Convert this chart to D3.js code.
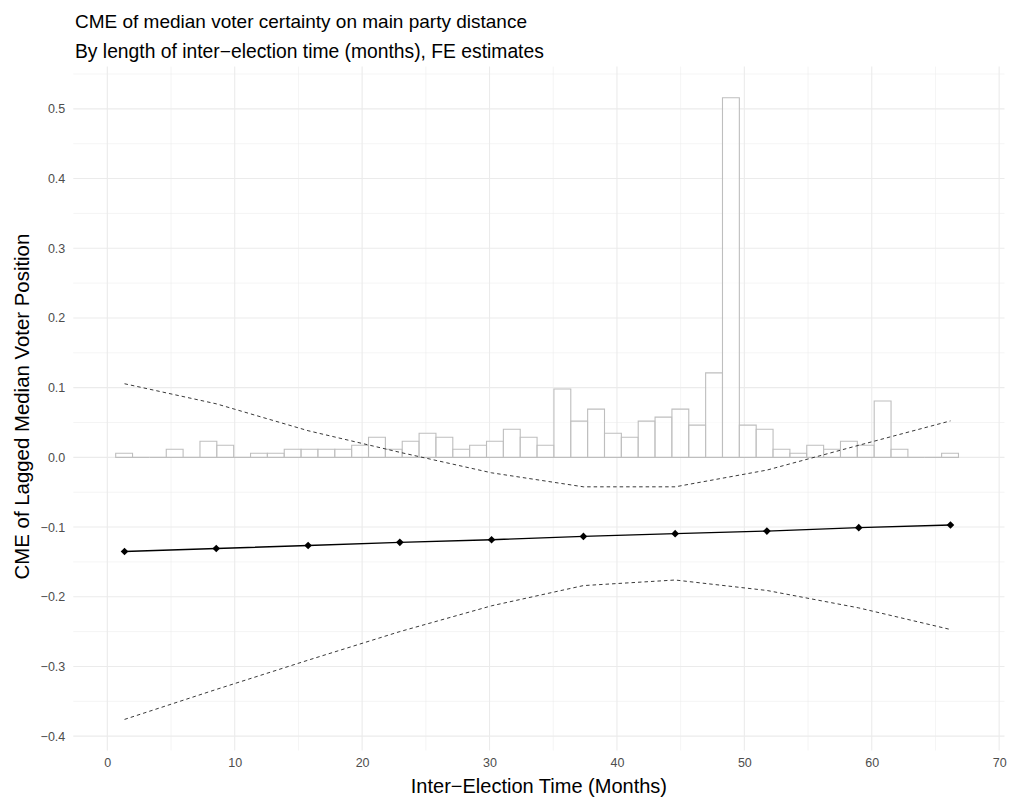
<!DOCTYPE html>
<html>
<head>
<meta charset="utf-8">
<script src="https://cdn.jsdelivr.net/npm/d3@7"></script>
<style>
  html, body { margin: 0; padding: 0; background: #ffffff; }
  svg { display: block; font-family: "Liberation Sans", Arial, Helvetica, sans-serif; }
</style>
</head>
<body>
<svg id="chart" width="1013" height="801"></svg>
<script>
// Inter-election time (months) at which the conditional marginal effect is evaluated
const months = [1.35, 8.55, 15.76, 22.96, 30.16, 37.37, 44.57, 51.77, 58.98, 66.18];
// Conditional marginal effect and its 95% confidence bounds
const cme      = [-0.1350, -0.1308, -0.1264, -0.1220, -0.1182, -0.1134, -0.1095, -0.1058, -0.1009, -0.0971];
const ciUpper  = [0.1056, 0.0768, 0.0382, 0.0072, -0.0222, -0.0423, -0.0423, -0.0183, 0.0173, 0.0523];
const ciLower  = [-0.3760, -0.3330, -0.2910, -0.2500, -0.2130, -0.1840, -0.1760, -0.1910, -0.2160, -0.2470];

// Distribution of inter-election time: 50 bins, heights on the CME axis scale
const histStart = 0.657;
const histBinWidth = 1.323;
const histHeights = [
  0.0058, 0, 0, 0.0115, 0, 0.0231, 0.0173, 0, 0.0058, 0.0058,
  0.0115, 0.0115, 0.0115, 0.0115, 0.0173, 0.0288, 0.0115, 0.0231, 0.0346, 0.0288,
  0.0115, 0.0173, 0.0231, 0.0404, 0.0288, 0.0173, 0.0981, 0.0519, 0.0692, 0.0346,
  0.0288, 0.0519, 0.0577, 0.0692, 0.0462, 0.1212, 0.5160, 0.0462, 0.0404, 0.0115,
  0.0058, 0.0173, 0.0115, 0.0231, 0.0173, 0.0808, 0.0115, 0, 0, 0.0058
];

// Axis breaks
const xTicks = [0, 10, 20, 30, 40, 50, 60, 70];
const xMinor = [5, 15, 25, 35, 45, 55, 65];
const yTicks = [-0.4, -0.3, -0.2, -0.1, 0.0, 0.1, 0.2, 0.3, 0.4, 0.5];
const yMinor = [-0.35, -0.25, -0.15, -0.05, 0.05, 0.15, 0.25, 0.35, 0.45, 0.55];

const titleText = "CME of median voter certainty on main party distance";
const subtitleText = "By length of inter\u2212election time (months), FE estimates";
const xTitle = "Inter\u2212Election Time (Months)";
const yTitle = "CME of Lagged Median Voter Position";

const panel = { left: 73.3, right: 1004.5, top: 66.6, bottom: 750.5 };

const svg = d3.select("#chart");

const x = d3.scaleLinear().domain([-2.67, 70.42]).range([panel.left, panel.right]);
const y = d3.scaleLinear().domain([-0.4206, 0.5606]).range([panel.bottom, panel.top]);

// Grid lines
const grid = svg.append("g");
grid.selectAll("line.ymin").data(yMinor).join("line")
  .attr("x1", panel.left).attr("x2", panel.right)
  .attr("y1", d => y(d)).attr("y2", d => y(d))
  .attr("stroke", "#ebebeb").attr("stroke-width", 0.55);
grid.selectAll("line.xmin").data(xMinor).join("line")
  .attr("y1", panel.top).attr("y2", panel.bottom)
  .attr("x1", d => x(d)).attr("x2", d => x(d))
  .attr("stroke", "#ebebeb").attr("stroke-width", 0.55);
grid.selectAll("line.ymaj").data(yTicks).join("line")
  .attr("x1", panel.left).attr("x2", panel.right)
  .attr("y1", d => y(d)).attr("y2", d => y(d))
  .attr("stroke", "#ebebeb").attr("stroke-width", 1.1);
grid.selectAll("line.xmaj").data(xTicks).join("line")
  .attr("y1", panel.top).attr("y2", panel.bottom)
  .attr("x1", d => x(d)).attr("x2", d => x(d))
  .attr("stroke", "#ebebeb").attr("stroke-width", 1.1);

// Histogram of inter-election time
const bins = histHeights.map((h, i) => ({
  x0: histStart + i * histBinWidth,
  x1: histStart + (i + 1) * histBinWidth,
  h: h
}));
svg.append("g").selectAll("path").data(bins).join("path")
  .attr("d", d => `M${x(d.x0)},${y(0)}V${y(d.h)}H${x(d.x1)}V${y(0)}Z`)
  .attr("fill", "#ffffff").attr("fill-opacity", 0.6)
  .attr("stroke", "#bebebe").attr("stroke-width", 1.1);

// Confidence bounds
const line = d3.line().x(d => x(d[0])).y(d => y(d[1]));
[ciUpper, ciLower].forEach(series => {
  svg.append("path")
    .datum(months.map((m, i) => [m, series[i]]))
    .attr("d", line)
    .attr("fill", "none")
    .attr("stroke", "#222222")
    .attr("stroke-width", 0.9)
    .attr("stroke-dasharray", "3.5,3");
});

// Marginal effect line and points
const est = months.map((m, i) => [m, cme[i]]);
svg.append("path").datum(est).attr("d", line)
  .attr("fill", "none").attr("stroke", "#000000").attr("stroke-width", 1.4);
svg.append("g").selectAll("path").data(est).join("path")
  .attr("transform", d => `translate(${x(d[0])},${y(d[1])})`)
  .attr("d", "M0,-3.8L3.8,0L0,3.8L-3.8,0Z")
  .attr("fill", "#000000");

// Axis tick labels
const tickColor = "#4d4d4d";
const xAxis = d3.axisBottom(x).tickValues(xTicks).tickSize(0).tickPadding(8).tickFormat(d3.format("d"));
const gx = svg.append("g").attr("transform", `translate(0,${panel.bottom})`).call(xAxis);
gx.select(".domain").remove();
gx.selectAll("text").attr("fill", tickColor).attr("font-size", 12.5)
  .attr("font-family", "Liberation Sans, Arial, sans-serif");

const yAxis = d3.axisLeft(y).tickValues(yTicks).tickSize(0).tickPadding(8)
  .tickFormat(d => d3.format(".1f")(d).replace("-", "\u2212"));
const gy = svg.append("g").attr("transform", `translate(${panel.left},0)`).call(yAxis);
gy.select(".domain").remove();
gy.selectAll("text").attr("fill", tickColor).attr("font-size", 12.5)
  .attr("font-family", "Liberation Sans, Arial, sans-serif");

// Titles
svg.append("text").attr("x", 75).attr("y", 28)
  .attr("font-size", 19).attr("fill", "#000000").text(titleText);
svg.append("text").attr("x", 75).attr("y", 58)
  .attr("font-size", 19.3).attr("fill", "#000000").text(subtitleText);
svg.append("text")
  .attr("x", (panel.left + panel.right) / 2).attr("y", 793)
  .attr("text-anchor", "middle").attr("font-size", 20).attr("fill", "#000000")
  .text(xTitle);
svg.append("text")
  .attr("transform", `translate(29,${(panel.top + panel.bottom) / 2 - 2}) rotate(-90)`)
  .attr("text-anchor", "middle").attr("font-size", 20.4).attr("fill", "#000000")
  .text(yTitle);
</script>
</body>
</html>
